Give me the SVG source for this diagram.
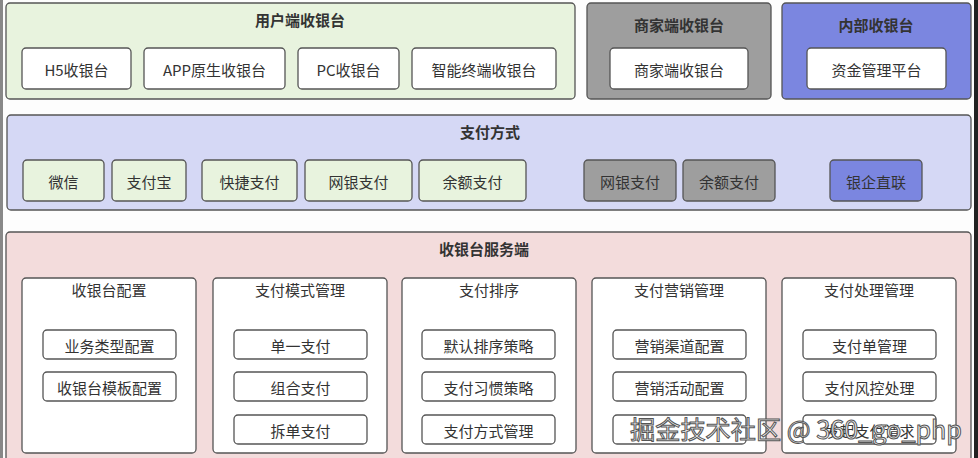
<svg xmlns="http://www.w3.org/2000/svg" width="978" height="458" viewBox="0 0 978 458">
<style>
text{font-family:"Noto Sans CJK SC","Liberation Sans",sans-serif;fill:#333;text-anchor:middle;dominant-baseline:central}
.t{font-size:15px;font-weight:bold}
.i{font-size:15px}
.c{font-size:15px}
.box{stroke:#555;stroke-width:1.3}
.w{fill:#fff}
.g{fill:#e8f3de}
.gr{fill:#9e9e9e}
.b{fill:#7b86e0}
.wm{font-size:25px;fill:#f4f4f4;stroke:#555;stroke-width:1;text-anchor:start;font-family:"Noto Sans CJK SC",sans-serif}
</style>
<rect x="0" y="0" width="978" height="458" fill="#fdfdfd"/>
<rect x="0" y="0" width="3" height="458" fill="#888"/>
<rect x="974" y="0" width="4" height="458" fill="#222"/>
<g id="user-cashier">
<rect class="box g" x="6" y="3" width="569" height="96" rx="4"/>
<text class="t" x="300" y="19">用户端收银台</text>
<g id="h5"><rect class="box w" x="22" y="48" width="109" height="41" rx="4"/><text class="i" x="76.5" y="69">H5收银台</text></g>
<g id="app"><rect class="box w" x="144" y="48" width="141" height="41" rx="4"/><text class="i" x="214.5" y="69">APP原生收银台</text></g>
<g id="pc"><rect class="box w" x="298" y="48" width="101" height="41" rx="4"/><text class="i" x="348.5" y="69">PC收银台</text></g>
<g id="smart"><rect class="box w" x="412" y="48" width="144" height="41" rx="4"/><text class="i" x="484" y="69">智能终端收银台</text></g>
</g>
<g id="merchant-cashier">
<rect class="box gr" x="587" y="3" width="184" height="96" rx="4"/>
<text class="t" x="679" y="24">商家端收银台</text>
<g id="merchant"><rect class="box w" x="610" y="48" width="138" height="41" rx="4"/><text class="i" x="679" y="69">商家端收银台</text></g>
</g>
<g id="internal-cashier">
<rect class="box b" x="782" y="3" width="189" height="96" rx="4"/>
<text class="t" x="876" y="24">内部收银台</text>
<g id="fund"><rect class="box w" x="807" y="48" width="139" height="41" rx="4"/><text class="i" x="876.5" y="69">资金管理平台</text></g>
</g>
<g id="payment-methods">
<rect class="box" fill="#d5d8f5" x="7" y="115" width="964" height="95" rx="4"/>
<text class="t" x="490" y="131">支付方式</text>
<g id="wechat"><rect class="box g" x="23" y="160" width="81" height="41" rx="4"/><text class="i" x="63.5" y="181">微信</text></g>
<g id="alipay"><rect class="box g" x="112" y="160" width="74" height="41" rx="4"/><text class="i" x="149" y="181">支付宝</text></g>
<g id="quick"><rect class="box g" x="202" y="160" width="95" height="41" rx="4"/><text class="i" x="249.5" y="181">快捷支付</text></g>
<g id="netbank"><rect class="box g" x="305" y="160" width="107" height="41" rx="4"/><text class="i" x="358.5" y="181">网银支付</text></g>
<g id="balance"><rect class="box g" x="419" y="160" width="107" height="41" rx="4"/><text class="i" x="472.5" y="181">余额支付</text></g>
<g id="netbank-m"><rect class="box gr" x="584" y="160" width="92" height="41" rx="4"/><text class="i" x="630" y="181" fill="#444">网银支付</text></g>
<g id="balance-m"><rect class="box gr" x="683" y="160" width="92" height="41" rx="4"/><text class="i" x="729" y="181">余额支付</text></g>
<g id="bank-direct"><rect class="box b" x="830" y="160" width="92" height="41" rx="4"/><text class="i" x="876" y="181">银企直联</text></g>
</g>
<g id="service">
<rect class="box" fill="#f3dcdc" x="6" y="232" width="965" height="240" rx="4"/>
<text class="t" x="484" y="248">收银台服务端</text>
<g id="col1"><rect class="box w" x="22" y="278" width="174" height="175" rx="4"/><text class="c" x="109" y="289">收银台配置</text>
<rect class="box w" x="43" y="330" width="133" height="29" rx="4"/><text class="i" x="109.5" y="345">业务类型配置</text>
<rect class="box w" x="43" y="372" width="133" height="29" rx="4"/><text class="i" x="109.5" y="387">收银台模板配置</text></g>
<g id="col2"><rect class="box w" x="213" y="278" width="174" height="175" rx="4"/><text class="c" x="300" y="289">支付模式管理</text>
<rect class="box w" x="234" y="330" width="133" height="29" rx="4"/><text class="i" x="300.5" y="345">单一支付</text>
<rect class="box w" x="234" y="372" width="133" height="29" rx="4"/><text class="i" x="300.5" y="387">组合支付</text>
<rect class="box w" x="234" y="415" width="133" height="29" rx="4"/><text class="i" x="300.5" y="430">拆单支付</text></g>
<g id="col3"><rect class="box w" x="402" y="278" width="174" height="175" rx="4"/><text class="c" x="489" y="289">支付排序</text>
<rect class="box w" x="422" y="330" width="133" height="29" rx="4"/><text class="i" x="488.5" y="345">默认排序策略</text>
<rect class="box w" x="422" y="372" width="133" height="29" rx="4"/><text class="i" x="488.5" y="387">支付习惯策略</text>
<rect class="box w" x="422" y="415" width="133" height="29" rx="4"/><text class="i" x="488.5" y="430">支付方式管理</text></g>
<g id="col4"><rect class="box w" x="592" y="278" width="174" height="175" rx="4"/><text class="c" x="679" y="289">支付营销管理</text>
<rect class="box w" x="613" y="330" width="133" height="29" rx="4"/><text class="i" x="679.5" y="345">营销渠道配置</text>
<rect class="box w" x="613" y="372" width="133" height="29" rx="4"/><text class="i" x="679.5" y="387">营销活动配置</text>
<rect class="box w" x="613" y="415" width="133" height="29" rx="4"/></g>
<g id="col5"><rect class="box w" x="782" y="278" width="174" height="175" rx="4"/><text class="c" x="869" y="289">支付处理管理</text>
<rect class="box w" x="803" y="330" width="133" height="29" rx="4"/><text class="i" x="869.5" y="345">支付单管理</text>
<rect class="box w" x="803" y="372" width="133" height="29" rx="4"/><text class="i" x="869.5" y="387">支付风控处理</text>
<rect class="box w" x="803" y="415" width="133" height="29" rx="4"/><text class="i" x="869.5" y="430">发起支付请求</text></g>
</g>
<g id="connectors"></g>
<text class="wm" x="630" y="428" textLength="332" lengthAdjust="spacingAndGlyphs">掘金技术社区 @ 360_go_php</text>
</svg>
